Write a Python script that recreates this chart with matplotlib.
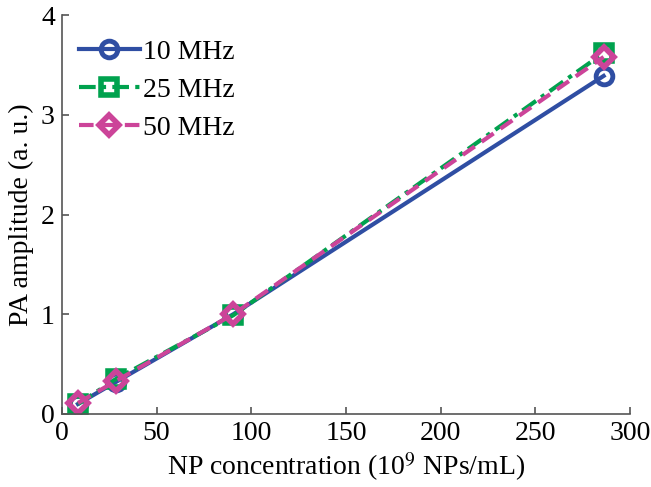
import matplotlib
matplotlib.use("Agg")
import matplotlib.pyplot as plt

plt.rcParams['font.family'] = ['Liberation Serif', 'DejaVu Serif']
plt.rcParams['mathtext.fontset'] = 'stix'

conc = [8.5, 28.5, 90.5, 286]
amp_10 = [0.10, 0.32, 1.00, 3.39]
amp_25 = [0.10, 0.35, 0.99, 3.62]
amp_50 = [0.11, 0.33, 1.00, 3.58]

fig = plt.figure(figsize=(6.51, 4.87), dpi=100)
ax = fig.add_axes([0.095, 0.15, 0.873, 0.819])

ax.plot(conc, amp_10, '-', color='#2f4ea3', lw=3, marker='o', ms=12,
        mfc='none', mew=3.5, label='10 MHz')
ax.plot(conc, amp_25, color='#00a24e', lw=3, ls=(0, (4, 1.5, 1, 1.5)),
        marker='s', ms=11, mfc='none', mew=4, label='25 MHz')
ax.plot(conc, amp_50, color='#cc4499', lw=3, ls=(0, (3.5, 2)),
        marker='D', ms=10, mfc='none', mew=4, label='50 MHz')

ax.set_xlim(0, 300)
ax.set_ylim(0, 4)
ax.set_xticks([0, 50, 100, 150, 200, 250, 300])
ax.set_yticks([0, 1, 2, 3, 4])
for s in ['top', 'right']:
    ax.spines[s].set_visible(False)
for s in ['left', 'bottom']:
    ax.spines[s].set_color('#555555')
    ax.spines[s].set_linewidth(1.2)
ax.tick_params(direction='in', length=5, width=1.2, color='#555555',
               labelsize=20, pad=5)

ax.set_xlabel(r'NP concentration (10$^9$ NPs/mL)', fontsize=20, labelpad=3)
ax.set_ylabel('PA amplitude (a. u.)', fontsize=20, labelpad=5)

ax.legend(loc='upper left', frameon=False, fontsize=20, handlelength=2.2,
          borderaxespad=0, labelspacing=0.45, handletextpad=0.1,
          bbox_to_anchor=(0.01, 0.967))

fig.savefig('out.png', dpi=100)
